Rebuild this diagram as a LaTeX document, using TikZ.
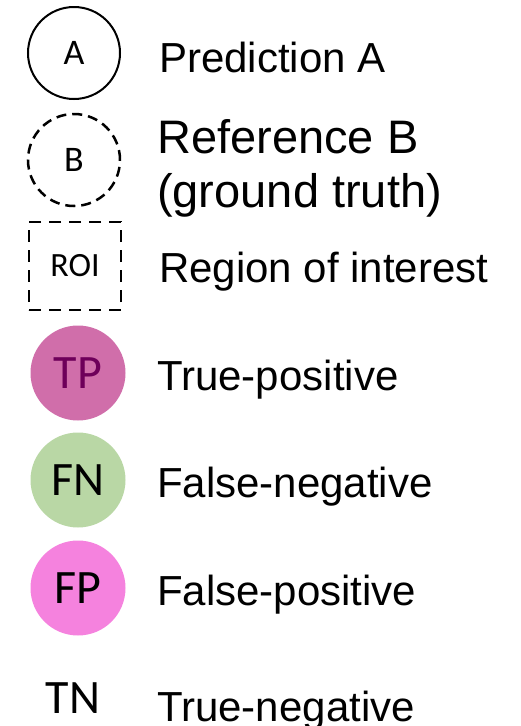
\documentclass[tikz,border=0pt]{standalone}
\usepackage{fontspec}
\setmainfont{Liberation Sans}
\newfontfamily\calibri{Carlito}
\definecolor{tpfill}{RGB}{208,110,170}
\definecolor{tptext}{RGB}{110,0,90}
\definecolor{fnfill}{RGB}{185,215,165}
\definecolor{fpfill}{RGB}{245,130,222}
\tikzset{
	keytext/.style={font=\fontsize{42}{42}\selectfont, anchor=base west, inner sep=0pt}
}
\tikzset{
	keymark/.style={circle, minimum size=92pt, inner sep=0pt, font=\calibri\fontsize{36}{36}\selectfont},
	markbig/.style={font=\calibri\fontsize{48}{48}\selectfont}
}

\begin{document}
\begin{tikzpicture}[x=1pt,y=-1pt]
      \useasboundingbox (0,0) rectangle (521,726);
      % outlines: prediction, reference, region of interest
      \node[keymark, draw, line width=2pt] (predA) at (74,53) {A};
      \node[keymark, draw, line width=2.5pt, dash pattern=on 10pt off 6pt] (refB) at (74,160) {B};
      \node[draw, line width=2.5pt, dash pattern=on 12pt off 8pt, minimum width=92pt,
        minimum height=88pt, inner sep=0pt, font=\calibri\fontsize{34}{34}\selectfont] (roi) at (75,266) {ROI};
      % filled outcome circles
      \foreach \n/\y/\c/\tc/\t in {tp/373/tpfill/tptext/TP, fn/480/fnfill/black/FN, fp/588/fpfill/black/FP}
        \node[keymark, markbig, fill=\c, text=\tc, minimum size=95pt] (\n) at (78,\y) {\t};
      \node[markbig] (tn) at (73,698) {TN};
      % labels (two-line node sits on its last baseline)
      \node[keytext] (predAlbl) at (159,72) {Prediction A};
      \node[keytext, font=\fontsize{47}{54}\selectfont, align=left] (refBlbl) at (157,207) {Reference B\\(ground truth)};
      \node[keytext] (roilbl) at (159,282) {Region of interest};
      \foreach \n/\y/\l in {tp/390/True-positive, fn/497/False-negative, fp/605/False-positive, tn/721/True-negative}
        \node[keytext] (\n lbl) at (157,\y) {\l};
    \end{tikzpicture}
\end{document}
